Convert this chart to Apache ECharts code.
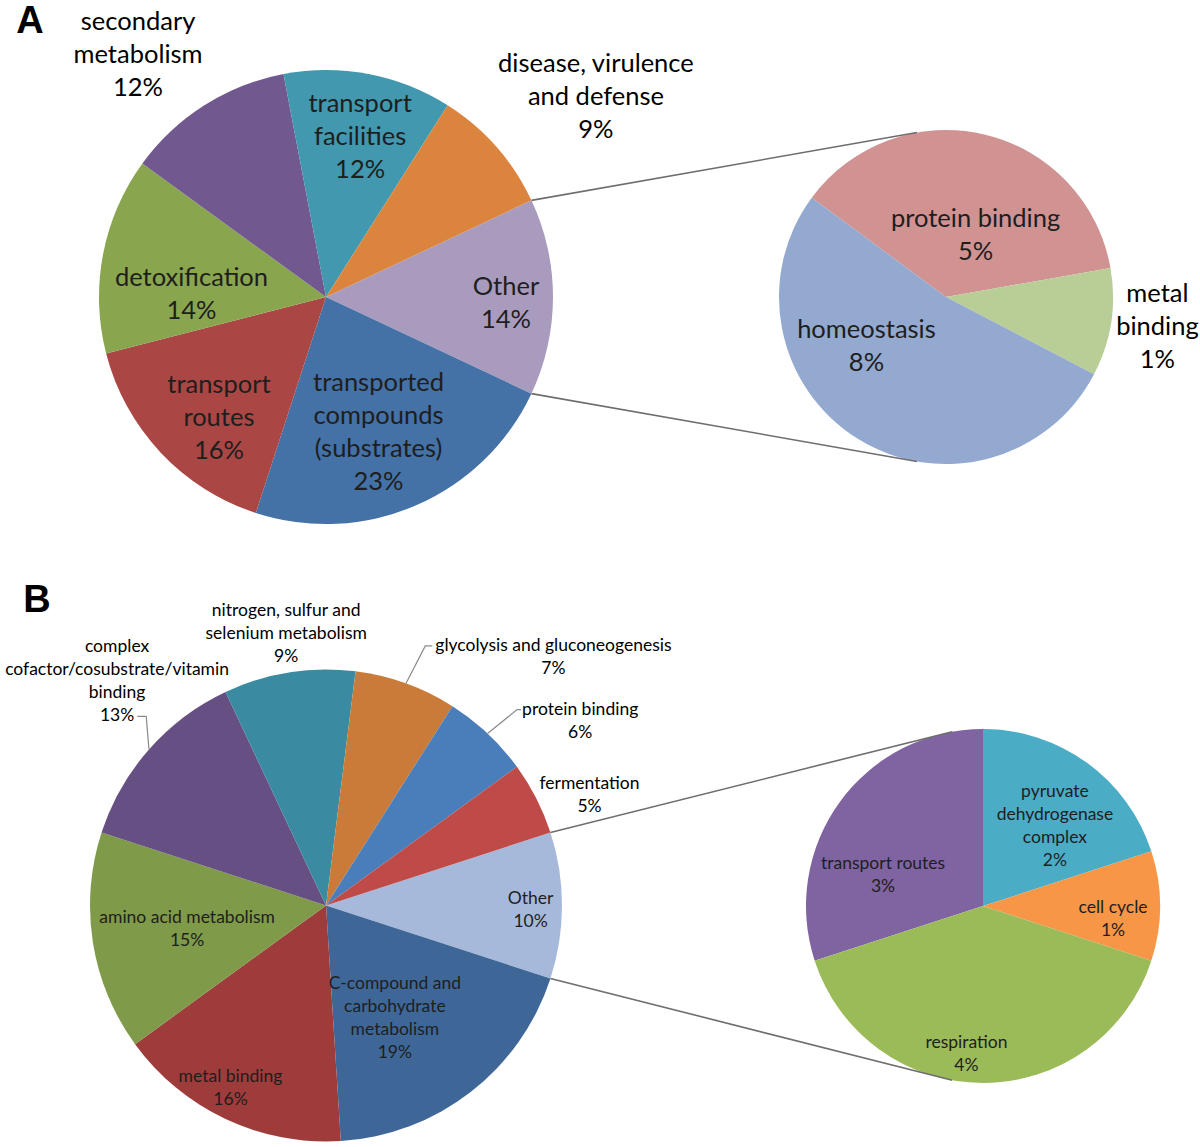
<!DOCTYPE html>
<html>
<head>
<meta charset="utf-8">
<script src="https://cdn.jsdelivr.net/npm/echarts@6/dist/echarts.min.js"></script>
<style>
html,body{margin:0;padding:0;background:#fff;}
#chart{width:1200px;height:1147px;}
</style>
</head>
<body>
<div id="chart"></div>
<script>
// ================= DATA =================
// Panel A – main pie (percent of all genes), "Other" first
const aMainNames = ['Other', 'transported\ncompounds\n(substrates)', 'transport\nroutes', 'detoxification',
  'secondary\nmetabolism', 'transport\nfacilities', 'disease, virulence\nand defense'];
const aMainValues = [14, 23, 16, 14, 12, 12, 9];
// Panel A – secondary pie (breakdown of "Other")
const aSubNames = ['protein binding', 'metal\nbinding', 'homeostasis'];
const aSubValues = [5.3, 1.49, 7.5];

// Panel B – main pie
const bMainNames = ['Other', 'C-compound and\ncarbohydrate\nmetabolism', 'metal binding', 'amino acid metabolism',
  'complex\ncofactor/cosubstrate/vitamin\nbinding', 'nitrogen, sulfur and\nselenium metabolism',
  'glycolysis and gluconeogenesis', 'protein binding', 'fermentation'];
const bMainValues = [10, 19, 16, 15, 13, 9, 7, 6, 5];
// Panel B – secondary pie
const bSubNames = ['transport routes', 'pyruvate\ndehydrogenase\ncomplex', 'cell cycle', 'respiration'];
const bSubValues = [3, 2, 1, 4];

const panelLetters = ['A', 'B'];

// ================= STYLE / LAYOUT =================
const aMainColors = ['#A99BBD', '#4471A6', '#AA4644', '#89A54E', '#71588F', '#4198AF', '#DB843D'];
const aSubColors  = ['#D09392', '#B9CD96', '#93A9CF'];
const bMainColors = ['#A7B9DA', '#3E6797', '#9D3C3A', '#7F9A48', '#664F82', '#3A8AA1', '#CB7B39', '#4A7EBB', '#BE4B48'];
const bSubColors  = ['#8064A2', '#4BACC6', '#F79646', '#9BBB59'];

const geo = {
  aMain: {cx: 326, cy: 297, r: 227},
  aSub:  {cx: 946, cy: 297, r: 167, start: 143.5},
  bMain: {cx: 326, cy: 905.5, r: 236},
  bSub:  {cx: 983, cy: 906, r: 177, start: 198}
};
// label placement: [radius factor, angle shift from slice mid-angle (deg)]
const aMainLabelPos = [[0.793,-1.4],[0.634,-2.0],[0.705,4.8],[0.593,8.7],[1.357,5.2],[0.729,-1.1],[1.485,-4.6]];
const aSubLabelPos  = [[0.417,-11.85],[1.277,1.25],[0.556,-26.9]];
const bMainLabelPos = [[0.867,-1.1],[0.557,-6.2],[0.869,-2.55],[0.596,0],[1.303,-5.8],[1.169,-0.7],[1.429,-22.6],[1.333,-10.7],[1.213,-4.0]];
const bSubLabelPos  = [[0.592,18.5],[0.612,-5.6],[0.738,-5.3],[0.838,-6.4]];

const FONT = 'Lato';
const A_FONT = 25.5, A_LH = 33;
const B_FONT = 17.5, B_LH = 23;

// main pies: "Other" slice centered on 3 o'clock
const sum = arr => arr.reduce((a, b) => a + b, 0);
geo.aMain.start = aMainValues[0] / sum(aMainValues) * 180;
geo.bMain.start = bMainValues[0] / sum(bMainValues) * 180;

function midAngles(values, start) {
  const total = sum(values);
  const mids = [];
  let acc = start;
  values.forEach(v => { const s = v / total * 360; mids.push(acc - s / 2); acc -= s; });
  return mids;
}
function polar(g, deg, rr) {
  const a = deg * Math.PI / 180;
  return [g.cx + rr * Math.cos(a), g.cy - rr * Math.sin(a)];
}
function labelCenter(g, mids, pos, i) {
  return polar(g, mids[i] + pos[i][1], pos[i][0] * g.r);
}

function pieSeries(names, values, colors, g, labelPos, fontSize, lineHeight, outsideIdx) {
  const mids = midAngles(values, g.start);
  return {
    type: 'pie',
    center: [g.cx, g.cy],
    radius: g.r,
    startAngle: g.start,
    clockwise: true,
    silent: true,
    animation: false,
    avoidLabelOverlap: false,
    itemStyle: {borderWidth: 0},
    emphasis: {disabled: true},
    label: {
      show: true,
      position: 'inside',
      formatter: p => p.name + '\n' + Math.round(p.value) + '%',
      fontFamily: FONT,
      fontSize: fontSize,
      lineHeight: lineHeight,
      color: '#1e1e1e'
    },
    labelLine: {show: false},
    labelLayout: params => {
      const c = labelCenter(g, mids, labelPos, params.dataIndex);
      return {x: c[0], y: c[1], align: 'center', verticalAlign: 'middle'};
    },
    data: names.map((n, i) => ({
      name: n,
      value: values[i],
      itemStyle: {color: colors[i]},
      label: outsideIdx.indexOf(i) >= 0 ? {color: '#000'} : {}
    }))
  };
}

// ---------- connectors & leader lines (computed from pie geometry) ----------
const graphics = [];
function connectors(main, sub) {
  const h = main.start;
  [[h, 100], [-h, -100]].forEach(([a1, a2]) => {
    const p1 = polar(main, a1, main.r), p2 = polar(sub, a2, sub.r);
    graphics.push({type: 'line', z: 10, shape: {x1: p1[0], y1: p1[1], x2: p2[0], y2: p2[1]},
      style: {stroke: '#6e6e6e', lineWidth: 1.6}});
  });
}
connectors(geo.aMain, geo.aSub);
connectors(geo.bMain, geo.bSub);

const ctx = document.createElement('canvas').getContext('2d');
function textW(t, size) { ctx.font = size + 'px ' + FONT; return ctx.measureText(t).width; }

const bMids = midAngles(bMainValues, geo.bMain.start);
function labelLines(i) {
  const c = labelCenter(geo.bMain, bMids, bMainLabelPos, i);
  const text = bMainNames[i] + '\n' + Math.round(bMainValues[i]) + '%';
  const lines = text.split('\n');
  const top = c[1] - (lines.length - 1) / 2 * B_LH;
  return lines.map((t, k) => ({w: textW(t, B_FONT), x: c[0], y: top + k * B_LH}));
}
// right-side labels: leader attaches to the left end of the first line
[[6, 10, 3], [7, 5, 1]].forEach(([i, elb, gap]) => {
  const ln = labelLines(i)[0];
  const left = ln.x - ln.w / 2;
  const rim = polar(geo.bMain, bMids[i], geo.bMain.r);
  graphics.push({type: 'polyline', z: 10,
    shape: {points: [rim, [left - elb, ln.y + 1], [left - gap, ln.y + 1]]},
    style: {stroke: '#8a8a8a', lineWidth: 1.2, fill: null}});
});
// left-side label: leader attaches to the right end of the last line
(function () {
  const i = 4;
  const ls = labelLines(i);
  const ln = ls[ls.length - 1];
  const right = ln.x + ln.w / 2;
  const rim = polar(geo.bMain, bMids[i], geo.bMain.r);
  graphics.push({type: 'polyline', z: 10,
    shape: {points: [[right + 3, ln.y + 2], [right + 12, ln.y + 2], rim]},
    style: {stroke: '#8a8a8a', lineWidth: 1.2, fill: null}});
})();

// panel letters
[[panelLetters[0], 30, 20], [panelLetters[1], 37, 599]].forEach(([t, x, y]) => {
  graphics.push({type: 'text', x: x, y: y, z: 10,
    style: {text: t, fill: '#000', fontSize: 38, fontWeight: 'bold', fontFamily: 'Liberation Sans',
      align: 'center', verticalAlign: 'middle'}});
});

const chart = echarts.init(document.getElementById('chart'), null, {renderer: 'svg'});
chart.setOption({
  backgroundColor: '#fff',
  animation: false,
  graphic: {elements: graphics},
  series: [
    pieSeries(aMainNames, aMainValues, aMainColors, geo.aMain, aMainLabelPos, A_FONT, A_LH, [4, 6]),
    pieSeries(aSubNames, aSubValues, aSubColors, geo.aSub, aSubLabelPos, A_FONT, A_LH, [1]),
    pieSeries(bMainNames, bMainValues, bMainColors, geo.bMain, bMainLabelPos, B_FONT, B_LH, [4, 5, 6, 7, 8]),
    pieSeries(bSubNames, bSubValues, bSubColors, geo.bSub, bSubLabelPos, B_FONT, B_LH, [])
  ]
});
</script>
</body>
</html>
